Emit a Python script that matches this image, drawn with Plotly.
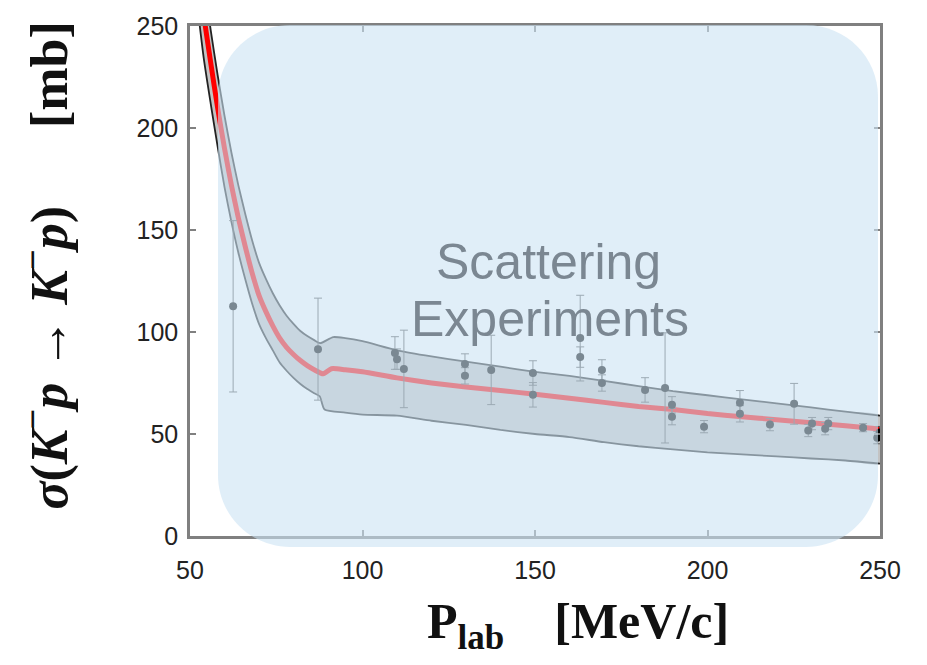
import plotly.graph_objects as go

# ---------------- data ----------------
central_x = [52, 54, 56, 58, 60, 62, 64, 66, 68, 70, 72, 74, 76, 78, 80, 82, 84, 86, 88.6, 91, 95,
             100, 110, 120, 130, 140, 150, 160, 170, 180, 190, 200, 210, 220, 230, 240, 250]
central_y = [280, 255, 232, 210, 190, 172, 156, 142, 129, 118, 110, 103, 97, 92.5, 89, 86, 83.5, 81.5, 79.5, 82, 81.5,
             80.5, 77.5, 75, 73, 71.3, 69.5, 67.5, 65.5, 63.5, 62, 60, 58.5, 57, 55.5, 54, 52.5]

upper_x = [52, 54, 56, 58, 60, 62, 64, 66, 68, 70, 72, 74, 76, 78, 80, 82, 84, 86, 87.7, 91.5, 95,
           100, 110, 120, 130, 140, 150, 160, 170, 180, 190, 200, 210, 220, 230, 240, 250]
upper_y = [298, 272, 248, 226, 206, 188, 172, 158, 145, 134, 126, 119, 113, 108, 104, 100.5, 98, 96, 94.5, 97.5, 97,
           95.5, 91, 88, 85.5, 83, 80.5, 78.5, 76, 73.5, 71, 69, 67, 65, 63, 61, 59]

lower_x = [52, 54, 56, 58, 60, 62, 64, 66, 68, 70, 72, 74, 76, 78, 80, 82, 84, 86, 87.6, 89, 95,
           100, 110, 120, 130, 140, 150, 160, 170, 180, 190, 200, 210, 220, 230, 240, 250]
lower_y = [262, 234, 212, 191, 171, 154, 139, 126, 114, 104, 97, 91, 85, 81, 77.5, 74.5, 72, 70, 68.5, 62, 60.5,
           59.5, 59, 56.5, 54.5, 52, 50, 48.5, 46, 44, 42.5, 41, 40, 39, 38, 37, 35.5]

exp_x = [62.5, 87.1, 109.4, 110.0, 112.0, 129.7, 129.7, 137.3, 149.4, 149.4, 163.1, 163.1,
         169.4, 169.4, 181.9, 187.7, 189.7, 189.7, 199.0, 209.4, 209.4, 218.1, 225.1, 229.2,
         230.3, 234.1, 235.0, 245.1, 249.2, 249.9]
exp_y = [112.6, 91.6, 89.7, 86.7, 81.9, 84.3, 78.5, 81.4, 79.9, 69.2, 97.0, 87.7,
         81.4, 75.0, 71.6, 72.6, 64.3, 58.5, 53.6, 65.3, 59.9, 54.6, 64.8, 51.7,
         55.1, 52.6, 55.1, 53.1, 48.2, 50.7]
exp_err = [42, 25, 8, 5, 19, 5, 4, 17, 6, 6, 21, 5,
           5, 4, 6, 27, 4, 4, 3, 6, 4, 3, 10, 3,
           3, 3, 3, 2, 3, 3]

x_ticks = [50, 100, 150, 200, 250]
y_ticks = [0, 50, 100, 150, 200, 250]

overlay_line1 = "Scattering"
overlay_line2 = "Experiments"
x_title = "<b>P<sub>lab</sub>\u2003[MeV/c]</b>"
y_title = ("<b><i>σ</i>(<i>K</i><sup>−</sup><i>p</i> → <i>K</i><sup>−</sup><i>p</i>)"
           "\u2003\u2002[mb]</b>")

# ---------------- figure ----------------
W, H = 927, 665
L, R, T, B = 190, 47, 23, 129
pw, ph = W - L - R, H - T - B

fig = go.Figure()

band_x = upper_x + lower_x[::-1]
band_y = upper_y + lower_y[::-1]
fig.add_trace(go.Scatter(x=band_x, y=band_y, fill="toself", mode="lines",
                         fillcolor="rgb(195,195,195)",
                         line=dict(color="rgba(0,0,0,0)", width=0, shape="spline", smoothing=0.6),
                         hoverinfo="skip", showlegend=False))
fig.add_trace(go.Scatter(x=upper_x, y=upper_y, mode="lines",
                         line=dict(color="#222222", width=1.8, shape="spline", smoothing=0.6),
                         showlegend=False))
fig.add_trace(go.Scatter(x=lower_x, y=lower_y, mode="lines",
                         line=dict(color="#222222", width=1.8, shape="spline", smoothing=0.6),
                         showlegend=False))
fig.add_trace(go.Scatter(x=central_x, y=central_y, mode="lines",
                         line=dict(color="#ff0000", width=5, shape="spline", smoothing=0.6),
                         showlegend=False))
fig.add_trace(go.Scatter(x=exp_x, y=exp_y, mode="markers",
                         marker=dict(color="#000000", size=8),
                         error_y=dict(type="data", array=exp_err, color="#555555",
                                      thickness=1, width=4),
                         showlegend=False))


def px2paper(px, py):
    return (px - L) / pw, (H - B - py) / ph


def P(px, py):
    xx, yy = px2paper(px, py)
    return f"{xx:.5f},{yy:.5f}"


# rounded translucent overlay
x0, y0 = 218, 22
x1, y1 = 878, 547
r = 72
k = 0.5523
path = (
    f"M {P(x0 + r, y0)} L {P(x1 - r, y0)} "
    f"C {P(x1 - r + k*r, y0)} {P(x1, y0 + r - k*r)} {P(x1, y0 + r)} "
    f"L {P(x1, y1 - r)} "
    f"C {P(x1, y1 - r + k*r)} {P(x1 - r + k*r, y1)} {P(x1 - r, y1)} "
    f"L {P(x0 + r, y1)} "
    f"C {P(x0 + r - k*r, y1)} {P(x0, y1 - r + k*r)} {P(x0, y1 - r)} "
    f"L {P(x0, y0 + r)} "
    f"C {P(x0, y0 + r - k*r)} {P(x0 + r - k*r, y0)} {P(x0 + r, y0)} Z"
)
fig.add_shape(type="path", path=path, xref="paper", yref="paper",
              fillcolor="rgba(203,227,243,0.6)", line=dict(width=0), layer="above")

ofont = dict(family="Liberation Sans, Arial", size=50, color="#7b8792")
ox, oy = px2paper(548, 260)
fig.add_annotation(text=overlay_line1, x=ox, y=oy, xref="paper", yref="paper",
                   showarrow=False, xanchor="center", yanchor="middle", font=ofont)
ox, oy = px2paper(550, 318)
fig.add_annotation(text=overlay_line2, x=ox, y=oy, xref="paper", yref="paper",
                   showarrow=False, xanchor="center", yanchor="middle", font=ofont)

tx, ty = px2paper(578, 626)
fig.add_annotation(text=x_title, x=tx, y=ty, xref="paper", yref="paper",
                   showarrow=False, xanchor="center", yanchor="middle",
                   font=dict(family="Liberation Serif, Times New Roman", size=50, color="#111"))
ax_, ay_ = px2paper(46, 264)
fig.add_annotation(text=y_title, x=ax_, y=ay_, xref="paper", yref="paper",
                   showarrow=False, xanchor="center", yanchor="middle", textangle=-90,
                   font=dict(family="Liberation Serif, Times New Roman", size=52, color="#111"))

axis_common = dict(showline=True, linecolor="#808080", linewidth=2.5, mirror="ticks",
                   ticks="inside", ticklen=6, tickwidth=1.5, tickcolor="#808080",
                   showgrid=False, zeroline=False,
                   tickfont=dict(family="Liberation Sans, Arial", size=25, color="#222"))
fig.update_xaxes(range=[50, 250], tickvals=x_ticks, ticklabelstandoff=10, **axis_common)
fig.update_yaxes(range=[0, 250], tickvals=y_ticks, ticklabelstandoff=4, **axis_common)

fig.update_layout(width=W, height=H, margin=dict(l=L, r=R, t=T, b=B),
                  plot_bgcolor="white", paper_bgcolor="white")

fig.write_html("out.html")
